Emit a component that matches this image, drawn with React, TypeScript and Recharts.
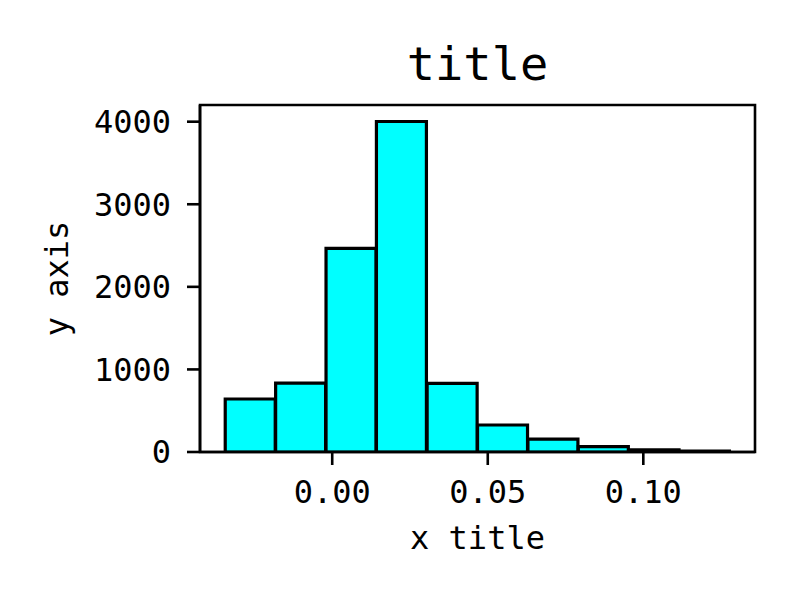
import React from 'react';
import { ComposedChart, Bar, XAxis, YAxis, Label, ReferenceArea } from 'recharts';

// histogram bins
const binStarts = [-0.0344, -0.0182, -0.0020, 0.0142, 0.0305, 0.0467, 0.0629, 0.0791, 0.0954, 0.1116];
const binWidth = 0.01622;
const counts = [642, 835, 2466, 4002, 830, 327, 157, 65, 25, 10];

const xTicks = [0, 0.05, 0.1];
const yTicks = [0, 1000, 2000, 3000, 4000];
const xDomain = [-0.0425, 0.1359];
const yDomain = [0, 4202];

const data = binStarts.map((start, i) => ({ mid: start + binWidth / 2, count: counts[i] }));

const FONT = '"DejaVu Sans Mono", monospace';
const axisStyle = { stroke: '#000', strokeWidth: 2.6 };

const TitleLabel = (props: any) => {
    const { viewBox } = props;
    return (
        <text x={viewBox.x + viewBox.width / 2} y={viewBox.y - 25} textAnchor="middle" fontFamily={FONT} fontSize={47} fill="#000">
            title
        </text>
    );
};

const XLabel = (props: any) => {
    const { viewBox } = props;
    return (
        <text x={viewBox.x + viewBox.width / 2} y={viewBox.y + 97} textAnchor="middle" fontFamily={FONT} fontSize={32} fill="#000">
            x title
        </text>
    );
};

const YLabel = (props: any) => {
    const { viewBox } = props;
    const x = viewBox.x + viewBox.width - 132;
    const y = viewBox.y + viewBox.height / 2;
    return (
        <text x={x} y={y} transform={`rotate(-90, ${x}, ${y})`} textAnchor="middle" fontFamily={FONT} fontSize={32} fill="#000">
            y axis
        </text>
    );
};

export default function App() {
    return (
        <div style={{ position: 'absolute', left: 0, top: 0, background: '#fff' }}>
            <ComposedChart width={799} height={600} data={data} margin={{ top: 105, right: 44, bottom: 48, left: 80 }} barCategoryGap={0} barGap={0}>
                <XAxis
                    dataKey="mid"
                    type="number"
                    domain={xDomain}
                    allowDataOverflow
                    ticks={xTicks}
                    tickFormatter={(v: number) => v.toFixed(2)}
                    height={100}
                    tickSize={13}
                    tickMargin={15}
                    axisLine={axisStyle}
                    tickLine={axisStyle}
                    tick={{ fill: '#000', fontFamily: FONT, fontSize: 32 }}
                >
                    <Label content={XLabel} />
                </XAxis>
                <YAxis
                    type="number"
                    domain={yDomain}
                    allowDataOverflow
                    ticks={yTicks}
                    width={120}
                    tickSize={13}
                    tickMargin={16}
                    axisLine={axisStyle}
                    tickLine={axisStyle}
                    tick={{ fill: '#000', fontFamily: FONT, fontSize: 32 }}
                >
                    <Label content={YLabel} />
                </YAxis>
                <Bar dataKey="count" fill="#00ffff" stroke="#000" strokeWidth={3.2} isAnimationActive={false} />
                {/* plot frame (top and right spines) plus the title */}
                <ReferenceArea
                    x1={xDomain[0]}
                    x2={xDomain[1]}
                    y1={yDomain[0]}
                    y2={yDomain[1]}
                    fill="none"
                    stroke="#000"
                    strokeWidth={2.6}
                    ifOverflow="visible"
                    label={<Label content={TitleLabel} />}
                />
            </ComposedChart>
        </div>
    );
}
